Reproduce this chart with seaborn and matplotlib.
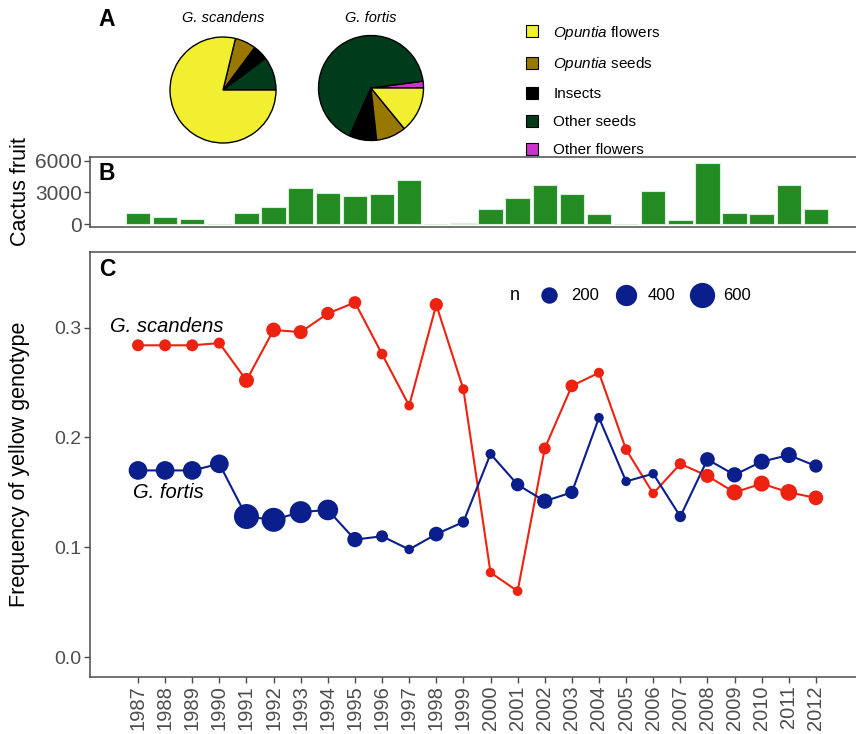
# Darwin's finches: diet, cactus fruit and yellow genotype frequency
import numpy as np
import pandas as pd
import matplotlib.pyplot as plt
import seaborn as sns
from matplotlib.patches import Patch
from matplotlib.lines import Line2D

years = list(range(1987, 2013))

# painel B - frutos de cacto
cactus_fruit = [1010, 630, 475, 40, 1040, 1640, 3380, 2970, 2620, 2810, 4140, 40, 125,
                1390, 2430, 3730, 2810, 950, 0, 3160, 350, 5750, 1010, 950, 3660, 1390]

# painel C - frequencia do genotipo amarelo e tamanho amostral
freq_scandens = [0.284, 0.284, 0.284, 0.286, 0.252, 0.298, 0.296, 0.313, 0.323, 0.276, 0.229,
                 0.321, 0.244, 0.077, 0.060, 0.190, 0.247, 0.259, 0.189, 0.149, 0.176, 0.165,
                 0.150, 0.158, 0.150, 0.145]
n_scandens = [62, 62, 62, 40, 151, 141, 119, 98, 81, 30, 5, 98, 14, 5, 8, 62, 81, 14, 30, 5,
              45, 119, 185, 185, 210, 141]
freq_fortis = [0.170, 0.170, 0.170, 0.176, 0.128, 0.125, 0.132, 0.134, 0.107, 0.110, 0.098,
               0.112, 0.123, 0.185, 0.157, 0.142, 0.150, 0.218, 0.160, 0.167, 0.128, 0.180,
               0.166, 0.178, 0.184, 0.174]
n_fortis = [287, 287, 287, 287, 587, 534, 433, 373, 161, 62, 5, 141, 45, 14, 98, 161, 98, 5,
            2, 2, 45, 141, 161, 185, 185, 98]
n_legend = [200, 400, 600]

# painel A - dieta
diet_labels = [r'$\mathit{Opuntia}$ flowers', r'$\mathit{Opuntia}$ seeds', 'Insects',
               'Other seeds', 'Other flowers']
diet_scandens = [78.7, 6.4, 4.6, 10.2, 0.0]
diet_fortis = [14.1, 9.2, 8.4, 66.3, 2.1]
diet_colors = ['#F2EE30', '#987800', '#000000', '#003C1C', '#CC33CC']

RED = '#EE2211'
BLUE = '#0A1E8C'
GRAY = '#4D4D4D'
SIZES = (45, 330)
SIZE_NORM = (0, 600)

sns.set_theme(style='white')
plt.rcParams['font.family'] = ['Liberation Sans', 'DejaVu Sans']
plt.rcParams['mathtext.fontset'] = 'custom'
plt.rcParams['mathtext.rm'] = 'Liberation Sans'
plt.rcParams['mathtext.it'] = 'Liberation Sans:italic'
plt.rcParams['text.color'] = 'black'
plt.rcParams['axes.labelcolor'] = 'black'

W, H = 856, 734
fig = plt.figure(figsize=(W / 100, H / 100), dpi=100)


def px_axes(x0, y0, x1, y1):
    return fig.add_axes([x0 / W, 1 - y1 / H, (x1 - x0) / W, (y1 - y0) / H])


# ---------------------------------------------------------------- A
pies = [(223, 90, 53, diet_scandens, 'G. scandens'), (371, 88, 52.5, diet_fortis, 'G. fortis')]
for cx, cy, r, vals, title in pies:
    pad = r * 1.05
    axp = px_axes(cx - pad, cy - pad, cx + pad, cy + pad)
    v = [x for x in vals[::-1] if x > 0]
    c = [col for x, col in zip(vals[::-1], diet_colors[::-1]) if x > 0]
    axp.pie(v, colors=c, startangle=0, counterclock=True,
            wedgeprops=dict(edgecolor='black', linewidth=1.0))
    axp.set_xlim(-1.05, 1.05)
    axp.set_ylim(-1.05, 1.05)
    axp.set_aspect('equal')
    axp.axis('off')
    fig.text(cx / W, 1 - 18 / H, title, ha='center', va='center', fontsize=10.5, style='italic')

handles = [Patch(facecolor=c, edgecolor='black', linewidth=0.8) for c in diet_colors]
fig.legend(handles, diet_labels, loc='upper left', bbox_to_anchor=(518 / W, 1 - 16 / H),
           frameon=False, fontsize=11, handlelength=0.8, handleheight=0.8,
           labelspacing=0.9, handletextpad=1.0, borderpad=0)
fig.text(107 / W, 1 - 20 / H, 'A', fontsize=16.5, fontweight='bold', ha='center', va='center')

# ---------------------------------------------------------------- B
axb = px_axes(90, 156.7, 862, 226.7)
sns.barplot(x=years, y=cactus_fruit, native_scale=True, width=0.9, color='#228B22',
            saturation=1, edgecolor='#D8EED8', linewidth=0.8, ax=axb)
axb.set_xlim(1985.23, 2013.7)
axb.set_ylim(-255, 6370)
axb.set_yticks([0, 3000, 6000])
axb.set_xticks([])
axb.set_ylabel('Cactus fruit', fontsize=15.5, color='black', labelpad=3)
axb.tick_params(axis='y', left=True, length=4, width=1, color=GRAY, labelsize=15,
                labelcolor=GRAY, pad=2)
for s in axb.spines.values():
    s.set_color(GRAY)
    s.set_linewidth(1.1)
fig.text(107 / W, 1 - 173 / H, 'B', fontsize=16.5, fontweight='bold', ha='center', va='center')

# ---------------------------------------------------------------- C
axc = px_axes(90, 252, 862, 677)
df = pd.DataFrame({
    'year': years * 2,
    'freq': freq_scandens + freq_fortis,
    'n': n_scandens + n_fortis,
    'species': ['G. scandens'] * len(years) + ['G. fortis'] * len(years),
})
pal = {'G. scandens': RED, 'G. fortis': BLUE}
sns.lineplot(data=df, x='year', y='freq', hue='species', palette=pal, linewidth=1.5,
             legend=False, ax=axc, zorder=2)
sns.scatterplot(data=df, x='year', y='freq', hue='species', size='n', palette=pal,
                sizes=SIZES, size_norm=SIZE_NORM, linewidth=0, alpha=1, legend=False,
                ax=axc, zorder=3)
axc.set_xlim(1985.23, 2013.7)
axc.set_ylim(-0.0182, 0.369)
axc.set_xticks(years)
axc.set_xticklabels([str(y) for y in years], rotation=90)
axc.set_yticks([0.0, 0.1, 0.2, 0.3])
axc.set_yticklabels(['0.0', '0.1', '0.2', '0.3'])
axc.set_xlabel('')
axc.set_ylabel('Frequency of yellow genotype', fontsize=15.5, color='black', labelpad=18)
axc.tick_params(axis='both', bottom=True, left=True, length=4, width=1, color=GRAY,
                labelcolor=GRAY, pad=2)
axc.tick_params(axis='y', labelsize=14)
axc.tick_params(axis='x', labelsize=14.5)
for s in axc.spines.values():
    s.set_color(GRAY)
    s.set_linewidth(1.1)

axc.text(1985.97, 0.301, 'G. scandens', style='italic', fontsize=14.5, ha='left', va='center')
axc.text(1986.8, 0.150, 'G. fortis', style='italic', fontsize=14.5, ha='left', va='center')

lo, hi = SIZES
size_handles = [Line2D([], [], marker='o', ls='', color=BLUE, markeredgewidth=0,
                       markersize=np.sqrt(lo + (v - SIZE_NORM[0]) / (SIZE_NORM[1] - SIZE_NORM[0]) * (hi - lo)))
                for v in n_legend]
axc.legend(size_handles, [str(v) for v in n_legend], ncol=3, loc='center left',
           bbox_to_anchor=(531 / W, 1 - 296 / H), bbox_transform=fig.transFigure,
           frameon=False, fontsize=12, handletextpad=0.7, columnspacing=1.0,
           borderpad=0, handlelength=1.2)
fig.text(515 / W, 1 - 296 / H, 'n', fontsize=13, ha='center', va='center')
fig.text(107 / W, 1 - 270 / H, 'C', fontsize=16.5, fontweight='bold', ha='center', va='center')

fig.savefig('out.png', dpi=100)
